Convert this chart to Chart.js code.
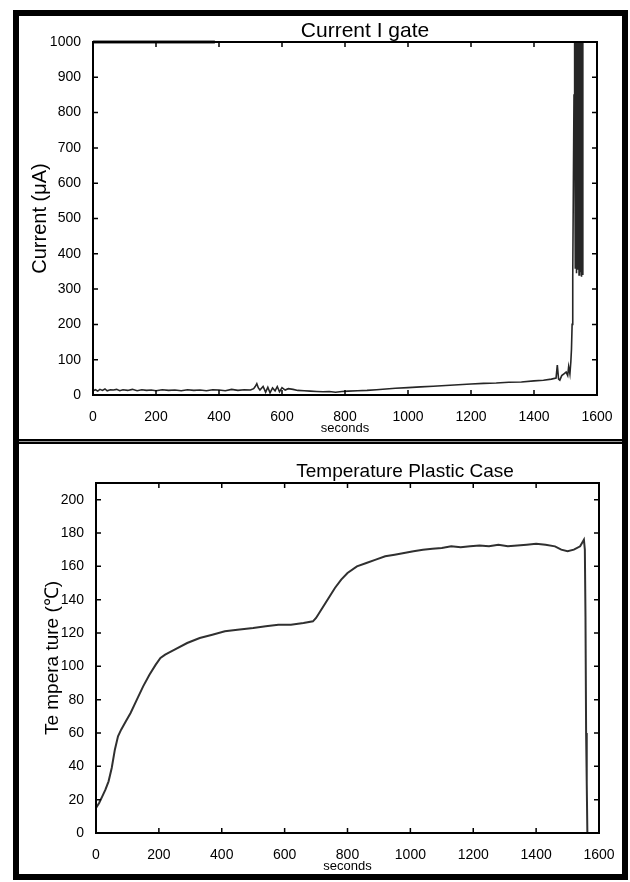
<!DOCTYPE html>
<html>
<head>
<meta charset="utf-8">
<script src="https://cdn.jsdelivr.net/npm/chart.js@4.4.0/dist/chart.umd.min.js"></script>
<style>
  html, body { margin: 0; padding: 0; background: #fff; }
  #page { position: relative; width: 630px; height: 882px; overflow: hidden; }
  canvas { position: absolute; left: 0; }
  #topChart { top: 0; }
  #botChart { top: 441px; }
  #border { position: absolute; left: 13px; top: 10px; width: 603px; height: 858px; border: 6px solid #000; }
  #sep { position: absolute; left: 19px; top: 439px; width: 603px; height: 1px; border-top: 2px solid #000; border-bottom: 2px solid #000; background: #999; }
</style>
</head>
<body>
<div id="page">
  <canvas id="topChart" width="630" height="441"></canvas>
  <canvas id="botChart" width="630" height="441"></canvas>
  <div id="sep"></div>
  <div id="border"></div>
</div>
<script>
// x ticks (seconds) shared by both panels
const secondTicks = [0, 200, 400, 600, 800, 1000, 1200, 1400, 1600];

// Current I gate (uA) vs seconds
const currentSec = [
  0, 8, 15, 22, 30, 38, 45, 55, 65, 75,
  85, 95, 110, 125, 140, 155, 170, 185, 200, 220,
  240, 260, 280, 300, 320, 340, 360, 380, 400, 420,
  440, 460, 480, 500, 510, 515, 520, 525, 530, 540,
  548, 555, 562, 570, 578, 585, 592, 600, 610, 620,
  635, 650, 670, 690, 710, 730, 750, 770, 790, 810,
  840, 870, 900, 930, 960, 1000, 1040, 1080, 1120, 1160,
  1200, 1240, 1280, 1320, 1360, 1400, 1430, 1455, 1470, 1474,
  1478, 1482, 1488, 1495, 1502, 1507, 1510, 1514, 1517, 1519,
  1521, 1523, 1525, 1527, 1529, 1531, 1533, 1535, 1537, 1539,
  1541, 1543, 1545, 1547, 1549, 1551, 1553, 1555
];
const currentVal = [
  12, 15, 11, 16, 13, 17, 12, 15, 14, 16,
  12, 15, 13, 16, 12, 15, 13, 14, 12, 15,
  13, 14, 12, 15, 13, 14, 12, 15, 14, 12,
  16, 13, 15, 14, 18, 24, 32, 20, 14, 24,
  8, 22, 6, 20, 12, 24, 9, 21, 14, 18,
  16, 13, 12, 11, 10, 9, 10, 8, 10, 11,
  12, 13, 15, 17, 19, 21, 23, 25, 27, 29,
  31, 33, 34, 36, 37, 40, 42, 45, 48, 85,
  45, 42, 55, 60, 65, 55, 80, 60, 95, 130,
  200, 330, 600, 850, 1000, 360, 1000, 345, 1000, 355,
  1000, 340, 1000, 350, 1000, 335, 1000, 340
];
// saturated trace along the top of the current panel
const saturatedSec = [0, 387];
const saturatedVal = [1000, 1000];
const currentTicks = [0, 100, 200, 300, 400, 500, 600, 700, 800, 900, 1000];

// Temperature of the plastic case (C) vs seconds
const tempSec = [
  0, 10, 20, 30, 40, 50, 60, 70, 80, 95,
  110, 130, 150, 170, 190, 205, 220, 250, 290, 330,
  370, 410, 450, 500, 540, 580, 620, 660, 690, 700,
  720, 740, 760, 780, 800, 830, 860, 890, 920, 950,
  980, 1010, 1040, 1070, 1100, 1130, 1160, 1190, 1220, 1250,
  1280, 1310, 1340, 1370, 1400, 1430, 1460, 1480, 1500, 1520,
  1540, 1552, 1555, 1557, 1559, 1561, 1563
];
const tempVal = [
  15, 18, 22, 26, 31, 39, 50, 58, 62, 67,
  72, 80, 88, 95, 101, 105, 107, 110, 114, 117,
  119, 121, 122, 123, 124, 125, 125, 126, 127, 129,
  135, 141, 147, 152, 156, 160, 162, 164, 166, 167,
  168, 169, 170, 170.5, 171, 172, 171.5, 172, 172.5, 172,
  173, 172, 172.5, 173, 173.5, 173, 172, 170, 169, 170,
  172, 176, 170, 130, 60, 30, 0
];
const tempTicks = [0, 20, 40, 60, 80, 100, 120, 140, 160, 180, 200];

const FONT = 'Liberation Sans, Arial, Helvetica, sans-serif';

function pts(xs, ys) {
  return xs.map((x, i) => ({ x: x, y: ys[i] }));
}

// MATLAB-like box with inward ticks, plus the panel title
const framePlugin = {
  id: 'frame',
  afterDraw(chart, args, opts) {
    const ctx = chart.ctx;
    const a = chart.chartArea;
    const xs = chart.scales.x, ys = chart.scales.y;
    ctx.save();
    ctx.strokeStyle = '#000';
    ctx.lineWidth = 2;
    ctx.strokeRect(a.left, a.top, a.right - a.left, a.bottom - a.top);
    ctx.lineWidth = 1.5;
    ctx.beginPath();
    const tl = opts.tickLen;
    xs.ticks.forEach(t => {
      const px = xs.getPixelForValue(t.value);
      ctx.moveTo(px, a.bottom); ctx.lineTo(px, a.bottom - tl);
      ctx.moveTo(px, a.top); ctx.lineTo(px, a.top + tl);
    });
    ys.ticks.forEach(t => {
      const py = ys.getPixelForValue(t.value);
      ctx.moveTo(a.left, py); ctx.lineTo(a.left + tl, py);
      ctx.moveTo(a.right, py); ctx.lineTo(a.right - tl, py);
    });
    ctx.stroke();
    ctx.fillStyle = '#000';
    ctx.font = opts.titleSize + 'px ' + FONT;
    ctx.textAlign = 'center';
    ctx.textBaseline = 'alphabetic';
    ctx.fillText(opts.title, opts.titleX, opts.titleY);
    ctx.restore();
  }
};

function buildChart(id, cfg) {
  return new Chart(document.getElementById(id).getContext('2d'), {
    type: 'line',
    data: { datasets: cfg.datasets },
    options: {
      responsive: false,
      animation: false,
      events: [],
      layout: { padding: cfg.padding },
      plugins: {
        legend: { display: false },
        tooltip: { enabled: false },
        frame: cfg.frame
      },
      scales: {
        x: {
          type: 'linear',
          min: 0, max: 1600,
          afterBuildTicks: ax => { ax.ticks = secondTicks.map(v => ({ value: v })); },
          afterFit: ax => { ax.height = cfg.xHeight; },
          grid: { display: false },
          border: { display: false },
          ticks: { color: '#000', padding: 6, maxRotation: 0, font: { family: FONT, size: 14 }, callback: v => String(v) },
          title: { display: true, text: 'seconds', color: '#000', font: { family: FONT, size: 13 }, padding: { top: 0, bottom: cfg.xTitlePad } }
        },
        y: {
          type: 'linear',
          min: 0, max: cfg.yMax,
          afterBuildTicks: ax => { ax.ticks = cfg.yTicks.map(v => ({ value: v })); },
          afterFit: ax => { ax.width = cfg.yWidth; },
          grid: { display: false },
          border: { display: false },
          ticks: { color: '#000', padding: 4, font: { family: FONT, size: 14 }, callback: v => String(v) },
          title: { display: true, text: cfg.yTitle, color: '#000', font: { family: FONT, size: cfg.yTitleSize }, padding: { top: cfg.yTitlePad, bottom: 0 } }
        }
      }
    },
    plugins: [framePlugin]
  });
}

buildChart('topChart', {
  padding: { left: 0, right: 33, top: 42, bottom: 0 },
  xHeight: 46,
  yWidth: 93,
  xTitlePad: 5,
  yMax: 1000,
  yTicks: currentTicks,
  yTitle: 'Current (μA)',
  yTitleSize: 20,
  yTitlePad: 28,
  frame: { tickLen: 5, title: 'Current I gate', titleSize: 21, titleX: 365, titleY: 37 },
  datasets: [
    { data: pts(currentSec, currentVal), borderColor: '#262626', borderWidth: 1.6, pointRadius: 0, tension: 0, clip: false },
    { data: pts(saturatedSec, saturatedVal), borderColor: '#262626', borderWidth: 3, pointRadius: 0, tension: 0, clip: false }
  ]
});

buildChart('botChart', {
  padding: { left: 0, right: 31, top: 42, bottom: 0 },
  xHeight: 49,
  yWidth: 96,
  xTitlePad: 8,
  yMax: 210,
  yTicks: tempTicks,
  yTitle: 'Te mpera ture (℃)',
  yTitleSize: 19,
  yTitlePad: 41,
  frame: { tickLen: 5, title: 'Temperature Plastic Case', titleSize: 19, titleX: 405, titleY: 36 },
  datasets: [
    { data: pts(tempSec, tempVal), borderColor: '#303030', borderWidth: 2, pointRadius: 0, tension: 0, clip: false }
  ]
});
</script>
</body>
</html>
